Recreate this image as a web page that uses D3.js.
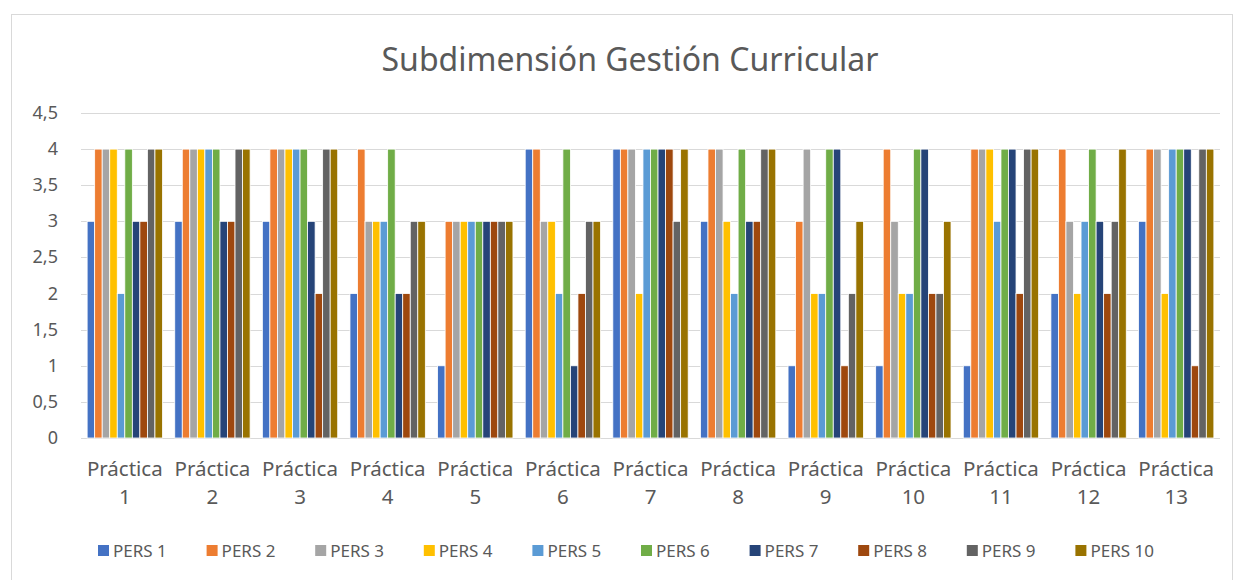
<!DOCTYPE html>
<html>
<head>
<meta charset="utf-8">
<script src="https://cdn.jsdelivr.net/npm/d3@7"></script>
<style>
  body { margin: 0; background: #fff; }
  text { font-family: "Noto Sans", "Open Sans", sans-serif; fill: #595959; }
</style>
</head>
<body>
<div id="chart"></div>
<script>
// categories and series
var practicas = ["1", "2", "3", "4", "5", "6", "7", "8", "9", "10", "11", "12", "13"];
var personas = ["PERS 1", "PERS 2", "PERS 3", "PERS 4", "PERS 5", "PERS 6", "PERS 7", "PERS 8", "PERS 9", "PERS 10"];
var colores = ["#4472c4", "#ed7d31", "#a5a5a5", "#ffc000", "#5b9bd5", "#70ad47", "#264478", "#9e480e", "#636363", "#997300"];
var yTicks = [0, 0.5, 1, 1.5, 2, 2.5, 3, 3.5, 4, 4.5];

// one value per práctica for each persona
var pers1  = [3, 3, 3, 2, 1, 4, 4, 3, 1, 1, 1, 2, 3];
var pers2  = [4, 4, 4, 4, 3, 4, 4, 4, 3, 4, 4, 4, 4];
var pers3  = [4, 4, 4, 3, 3, 3, 4, 4, 4, 3, 4, 3, 4];
var pers4  = [4, 4, 4, 3, 3, 3, 2, 3, 2, 2, 4, 2, 2];
var pers5  = [2, 4, 4, 3, 3, 2, 4, 2, 2, 2, 3, 3, 4];
var pers6  = [4, 4, 4, 4, 3, 4, 4, 4, 4, 4, 4, 4, 4];
var pers7  = [3, 3, 3, 2, 3, 1, 4, 3, 4, 4, 4, 3, 4];
var pers8  = [3, 3, 2, 2, 3, 2, 4, 3, 1, 2, 2, 2, 1];
var pers9  = [4, 4, 4, 3, 3, 3, 3, 4, 2, 2, 4, 3, 4];
var pers10 = [4, 4, 4, 3, 3, 3, 4, 4, 3, 3, 4, 4, 4];
var valores = [pers1, pers2, pers3, pers4, pers5, pers6, pers7, pers8, pers9, pers10];

var W = 1235, H = 580;
var margin = {left: 81, right: 15, top: 113, bottom: 142};

var svg = d3.select("#chart").append("svg")
    .attr("width", W)
    .attr("height", H);

// chart frame
svg.append("rect")
    .attr("x", 11.5).attr("y", 14.5)
    .attr("width", W - 14).attr("height", H - 14)
    .attr("fill", "#fff")
    .attr("stroke", "#d9d9d9");

svg.append("text")
    .attr("x", 630).attr("y", 71)
    .attr("text-anchor", "middle")
    .style("font-size", "32px")
    .text("Subdimensión Gestión Curricular");

var x0 = d3.scaleBand()
    .domain(practicas)
    .range([margin.left, W - margin.right])
    .paddingInner(0.14)
    .paddingOuter(0.07);

var x1 = d3.scaleBand()
    .domain(d3.range(personas.length))
    .range([0, x0.bandwidth()]);

var y = d3.scaleLinear()
    .domain([0, 4.5])
    .range([H - margin.bottom, margin.top]);

var fmt = function(d) { return String(d).replace(".", ","); };

// gridlines
svg.append("g")
    .selectAll("line")
    .data(yTicks)
    .enter().append("line")
    .attr("x1", margin.left).attr("x2", W - margin.right)
    .attr("y1", function(d) { return Math.round(y(d)) + 0.5; })
    .attr("y2", function(d) { return Math.round(y(d)) + 0.5; })
    .attr("stroke", "#d9d9d9")
    .attr("stroke-width", 1);

svg.append("g")
    .selectAll("text")
    .data(yTicks)
    .enter().append("text")
    .attr("x", 58)
    .attr("y", function(d) { return y(d) + 6; })
    .attr("text-anchor", "end")
    .style("font-size", "18px")
    .text(fmt);

// bars
var groups = svg.append("g")
    .selectAll("g")
    .data(practicas)
    .enter().append("g")
    .attr("transform", function(d) { return "translate(" + x0(d) + ",0)"; });

groups.selectAll("rect")
    .data(function(d, i) {
        return valores.map(function(serie, k) { return {k: k, v: serie[i]}; });
    })
    .enter().append("rect")
    .attr("x", function(d) { return x1(d.k); })
    .attr("y", function(d) { return y(d.v); })
    .attr("width", x1.bandwidth())
    .attr("height", function(d) { return y(0) - y(d.v); })
    .attr("fill", function(d) { return colores[d.k]; })
    .attr("stroke", "#fff")
    .attr("stroke-width", 0.8);

// category labels (two lines)
var xl = svg.append("g")
    .selectAll("text")
    .data(practicas)
    .enter().append("text")
    .attr("text-anchor", "middle")
    .style("font-size", "20.5px")
    .attr("transform", function(d) { return "translate(" + (x0(d) + x0.bandwidth() / 2) + ",0)"; });
xl.append("tspan").attr("x", 0).attr("y", 476).text("Práctica");
xl.append("tspan").attr("x", 0).attr("y", 504).text(function(d) { return d; });

// legend
var leg = svg.append("g")
    .selectAll("g")
    .data(personas)
    .enter().append("g")
    .attr("transform", function(d, i) { return "translate(" + (98 + i * 108.6) + ",545)"; });
leg.append("rect")
    .attr("width", 11).attr("height", 11)
    .attr("fill", function(d, i) { return colores[i]; });
leg.append("text")
    .attr("x", 15).attr("y", 12)
    .style("font-size", "17px")
    .text(function(d) { return d; });
</script>
</body>
</html>
